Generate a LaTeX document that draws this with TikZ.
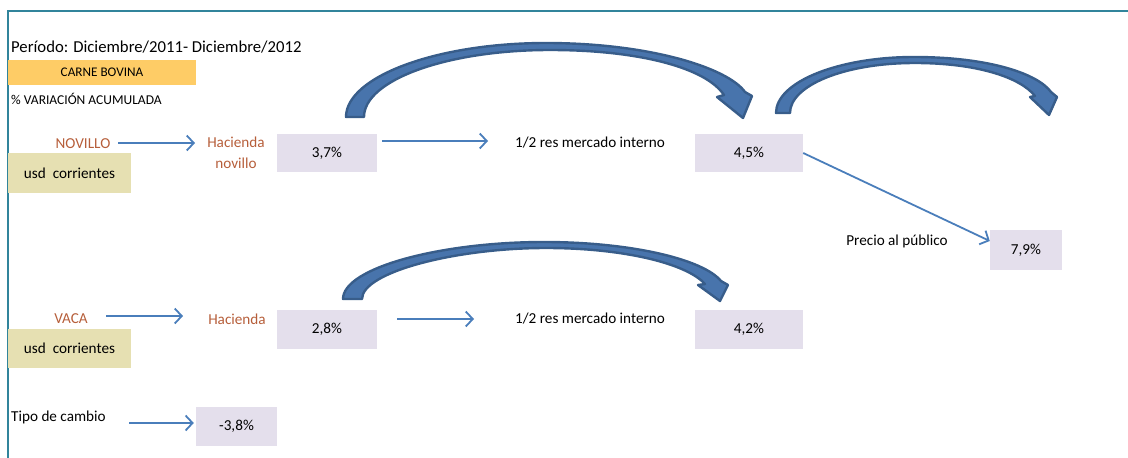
\documentclass[tikz,border=0pt]{standalone}
\usepackage{fontspec}
\setmainfont{Carlito}
\usetikzlibrary{arrows.meta}
\definecolor{bordercol}{RGB}{49,132,155}
\definecolor{browntxt}{RGB}{182,94,58}
\definecolor{lavbox}{RGB}{228,223,236}
\definecolor{tanbox}{RGB}{230,224,178}
\definecolor{orangebox}{RGB}{254,204,102}
\definecolor{arrblue}{RGB}{74,126,187}
\definecolor{bigfill}{RGB}{72,116,172}
\definecolor{bigline}{RGB}{56,93,138}
\tikzset{
  txt/.style={inner sep=0pt, font=\fontsize{15.2}{18}\selectfont},
  brn/.style={txt, text=browntxt, align=center},
  valbox/.style={fill=lavbox, inner sep=0pt, font=\fontsize{15.2}{18}\selectfont},
  tbox/.style={fill=tanbox, inner sep=0pt, minimum width=123pt, minimum height=40pt, font=\fontsize{15.2}{18}\selectfont},
  flow/.style={draw=arrblue, line width=1.8pt, -{Straight Barb[length=7pt,width=15pt]}},
  bigarrow/.style={fill=bigfill, draw=bigline, line width=2.4pt, line join=round}
}
\begin{document}
\begin{tikzpicture}[x=1pt,y=-1pt]
\useasboundingbox (0,0) rectangle (1128,458);
% frame
\draw[bordercol, line width=2pt] (8,458) -- (8,11) -- (1128,11);
% header
\node[txt, anchor=west, font=\fontsize{16.7}{20}\selectfont] (period) at (11,47) {Período: Diciembre/2011- Diciembre/2012};
\node[fill=orangebox, inner sep=0pt, minimum width=188pt, minimum height=25pt, font=\fontsize{13.2}{15}\selectfont] (carne) at (102,72.5) {CARNE BOVINA};
\node[txt, anchor=west, font=\fontsize{13.5}{15}\selectfont] (var) at (11,99) {\% VARIACIÓN ACUMULADA};
% novillo row
\node[brn] (nov) at (83,144) {NOVILLO};
\node[tbox] (usd1) at (69.5,173) {usd\ \ corrientes};
\node[brn, font=\fontsize{15.2}{21}\selectfont] (hac1) at (236,153) {Hacienda\\novillo};
\node[valbox, minimum width=100pt, minimum height=38pt] (b37) at (327,153) {3,7\%};
\node[txt] (res1) at (590,143) {1/2 res mercado interno};
\node[valbox, minimum width=108pt, minimum height=38pt] (b45) at (749,153) {4,5\%};
\node[txt] (precio) at (897,241) {Precio al público};
\node[valbox, minimum width=72pt, minimum height=40pt] (b79) at (1026,250) {7,9\%};
% vaca row
\node[brn] (vaca) at (71,319) {VACA};
\node[tbox, minimum height=39pt] (usd2) at (69.5,348.5) {usd\ \ corrientes};
\node[brn] (hac2) at (237,319) {Hacienda};
\node[valbox, minimum width=100pt, minimum height=39pt] (b28) at (327,329.5) {2,8\%};
\node[txt] (res2) at (590,319) {1/2 res mercado interno};
\node[valbox, minimum width=108pt, minimum height=39pt] (b42) at (749,329.5) {4,2\%};
% tipo de cambio
\node[txt, anchor=west] (tipo) at (11,417) {Tipo de cambio};
\node[valbox, minimum width=81pt, minimum height=39pt] (b38) at (236.5,426.5) {-3,8\%};
% straight connectors
\coordinate (n0) at (118,143); \coordinate (n1) at (195,143);
\coordinate (r0) at (382,141); \coordinate (r1) at (488,141);
\coordinate (v0) at (106,316); \coordinate (v1) at (183,316);
\coordinate (s0) at (397,319); \coordinate (s1) at (474,319);
\coordinate (t0) at (129,423);
\draw[flow] (n0) -- (n1);
\draw[flow] (r0) -- (r1);
\draw[flow] (b45.east) -- ([yshift=9pt]b79.west);
\draw[flow] (v0) -- (v1);
\draw[flow] (s0) -- (s1);
\draw[flow] (t0) -- ([xshift=-2pt]b38.west |- t0);
% big curved arrows
\draw[bigarrow] (346,117) .. controls (346,77) and (436,43) .. (546,43)
  .. controls (650,43) and (728,68) .. (745,92)
  -- (752,96) -- (743,118) -- (717,97) -- (724,95)
  .. controls (706,68) and (640,50) .. (550,50)
  .. controls (447,50) and (364,80) .. (364,117) -- cycle;
\draw[bigarrow] (776,113) .. controls (776,82) and (838,57) .. (914,57)
  .. controls (990,57) and (1038,74) .. (1051,92)
  -- (1057,97) -- (1049,115) -- (1030,97) -- (1035,96)
  .. controls (1020,77) and (976,63) .. (915,63)
  .. controls (843,63) and (790,86) .. (790,113) -- cycle;
\draw[bigarrow] (343,299) .. controls (343,268) and (440,242) .. (544,242)
  .. controls (630,242) and (703,259) .. (721,281)
  -- (728,285) -- (720,301) -- (698,285) -- (705,284)
  .. controls (686,263) and (622,248) .. (546,248)
  .. controls (456,248) and (362,272) .. (362,299) -- cycle;
\end{tikzpicture}
\end{document}
